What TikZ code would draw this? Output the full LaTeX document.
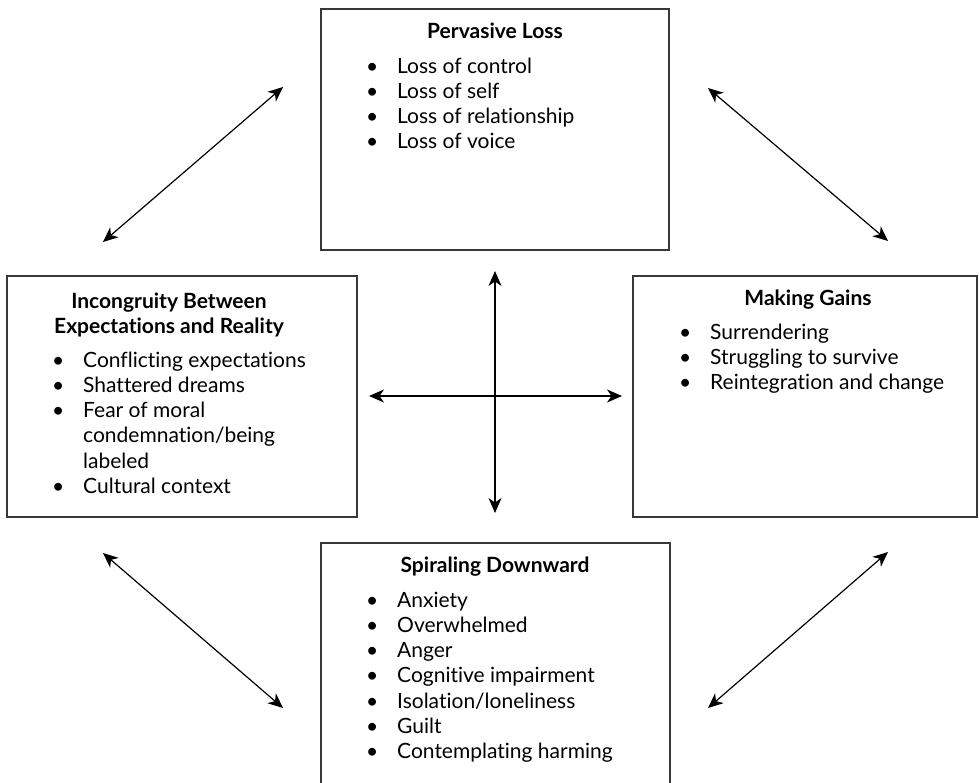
\documentclass[tikz,border=0pt]{standalone}
\usepackage{fontspec}
\setmainfont{Lato}[Ligatures={NoCommon,NoRequired}]
\usetikzlibrary{arrows.meta}

% one bullet row of a list: dot column, then the entry
\newcommand{\bitem}[1]{\textbullet & #1\\}
\newcommand{\bcont}[1]{ & #1\\}
\newenvironment{blist}{\begin{tabular}[t]{@{}p{31pt}@{}l@{}}}{\end{tabular}}

\tikzset{
  panel/.style={draw=black!78, line width=1.4pt, fill=none, inner sep=0pt},
  heading/.style={inner sep=0pt, anchor=base, font=\bfseries},
  listing/.style={inner sep=0pt, anchor=base west},
  link/.style={line width=1.2pt, {Stealth[length=15pt,width=13pt,inset=4.5pt]}-{Stealth[length=15pt,width=13pt,inset=4.5pt]}}
}

\begin{document}
\begin{tikzpicture}[x=1pt,y=-1pt]
\fontsize{21}{25.3}\selectfont
\useasboundingbox (0,0) rectangle (979,782);
\clip (0,0) rectangle (979,782);
\fill[white] (0,0) rectangle (979,782);

% the four panels
\node[panel, minimum width=348pt, minimum height=241pt] (loss)  at (495,129.5) {};
\node[panel, minimum width=350pt, minimum height=241pt] (incon) at (182,396.5) {};
\node[panel, minimum width=344pt, minimum height=241pt] (gains) at (805,396.5) {};
\node[panel, minimum width=349pt, minimum height=257pt] (spiral) at (495.5,671.5) {};

% Pervasive Loss
\node[heading] (lossT) at (495,38.5) {Pervasive Loss};
\node[listing] (lossL) at (366,73) {\begin{blist}
\bitem{Loss of control}
\bitem{Loss of self}
\bitem{Loss of relationship}
\bitem{Loss of voice}
\end{blist}};

% Incongruity Between Expectations and Reality
\node[heading] (inconT) at (169,308) {\begin{tabular}[t]{@{}c@{}}Incongruity Between\\Expectations and Reality\end{tabular}};
\node[listing] (inconL) at (52,367) {\begin{blist}
\bitem{Conflicting expectations}
\bitem{Shattered dreams}
\bitem{Fear of moral}
\bcont{condemnation/being}
\bcont{labeled}
\bitem{Cultural context}
\end{blist}};

% Making Gains
\node[heading] (gainsT) at (808,305) {Making Gains};
\node[listing] (gainsL) at (679,339) {\begin{blist}
\bitem{Surrendering}
\bitem{Struggling to survive}
\bitem{Reintegration and change}
\end{blist}};

% Spiraling Downward
\node[heading] (spiralT) at (495,572) {Spiraling Downward};
\node[listing] (spiralL) at (366,607) {\begin{blist}
\bitem{Anxiety}
\bitem{Overwhelmed}
\bitem{Anger}
\bitem{Cognitive impairment}
\bitem{Isolation/loneliness}
\bitem{Guilt}
\bitem{Contemplating harming}
\end{blist}};

% arrow ends
\coordinate (vN) at (495,271);
\coordinate (vS) at (495,513);
\coordinate (hW) at (369,396);
\coordinate (hE) at (622,396);
\coordinate (tlA) at (103,242);
\coordinate (tlB) at (283,87);
\coordinate (trA) at (708,88);
\coordinate (trB) at (888,241);
\coordinate (blA) at (103,553);
\coordinate (blB) at (283,708);
\coordinate (brA) at (888,552);
\coordinate (brB) at (708,708);

% the central cross
\draw[link] (vN) -- (vS);
\draw[link] (hW) -- (hE);

% diagonal links between neighbouring panels
\draw[link] (tlA) -- (tlB);
\draw[link] (trA) -- (trB);
\draw[link] (blA) -- (blB);
\draw[link] (brA) -- (brB);
\end{tikzpicture}
\end{document}
